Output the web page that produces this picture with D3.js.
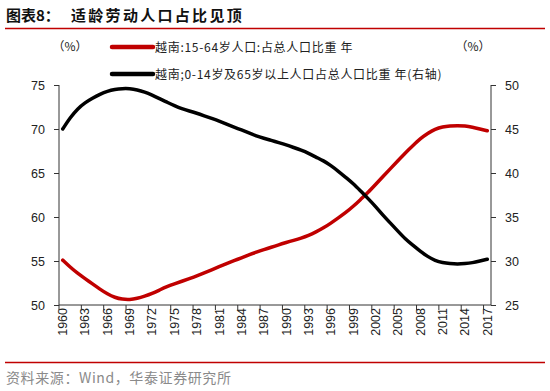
<!DOCTYPE html>
<html><head><meta charset="utf-8">
<script src="https://cdn.jsdelivr.net/npm/d3@7"></script>
<style>
html,body{margin:0;padding:0;background:#fff;}
svg{display:block;}
text{font-family:"Liberation Sans",Arial,sans-serif;}
.cjk{font-family:"Noto Sans CJK SC","Liberation Sans",sans-serif;}
</style></head>
<body><svg id="c" width="550" height="391"></svg>
<script>
const years = d3.range(1960, 2018);
const workingAge = [55.1,54.3,53.6,53.0,52.4,51.8,51.25,50.85,50.65,50.6,50.75,51.0,51.3,51.7,52.1,52.4,52.7,53.0,53.3,53.65,54.0,54.35,54.7,55.05,55.35,55.7,56.0,56.3,56.55,56.85,57.1,57.35,57.6,57.9,58.3,58.75,59.3,59.9,60.5,61.2,62.0,62.8,63.7,64.6,65.5,66.4,67.3,68.1,68.9,69.5,70.0,70.25,70.35,70.4,70.35,70.2,70.0,69.8];
const dependent = [45.0,46.3,47.3,48.0,48.5,48.95,49.3,49.5,49.6,49.6,49.45,49.2,48.85,48.45,48.05,47.65,47.3,47.05,46.8,46.5,46.2,45.9,45.55,45.2,44.9,44.55,44.2,43.95,43.7,43.45,43.2,42.9,42.6,42.25,41.8,41.4,40.85,40.2,39.5,38.8,37.95,37.1,36.2,35.2,34.3,33.4,32.5,31.8,31.1,30.5,30.05,29.8,29.7,29.65,29.7,29.8,30.0,30.2];
const leftTicks = [50,55,60,65,70,75];
const rightTicks = [25,30,35,40,45,50];
const xTickYears = years.filter((y,i)=>i%3===0);
const title1 = "图表8：";
const title2 = "适龄劳动人口占比见顶";
const legendLabels = ["越南:15-64岁人口:占总人口比重 年","越南;0-14岁及65岁以上人口占总人口比重 年(右轴)"];
const source = "资料来源：Wind，华泰证券研究所";
const RED = "#c00000";

const svg = d3.select("#c");
const L = 59, R = 491, T = 85, B = 305;
const x = d3.scaleBand().domain(years).range([L, R]).paddingInner(0).paddingOuter(0);
const yL = d3.scaleLinear().domain([50, 75]).range([B, T]);
const yR = d3.scaleLinear().domain([25, 50]).range([B, T]);
const cx = d => x(d) + x.bandwidth()/2;

// title
svg.append("text").attr("class","cjk").attr("x",6).attr("y",21).attr("font-size",15).attr("font-weight",700).attr("fill","#111").text(title1);
svg.append("text").attr("class","cjk").attr("x",71).attr("y",21).attr("font-size",15).attr("font-weight",700).attr("fill","#111").attr("letter-spacing",2.3).text(title2);
svg.append("line").attr("x1",5).attr("x2",545).attr("y1",28.5).attr("y2",28.5).attr("stroke",RED).attr("stroke-width",1.3);

// footer
svg.append("line").attr("x1",5).attr("x2",545).attr("y1",362.5).attr("y2",362.5).attr("stroke",RED).attr("stroke-width",1.3);
svg.append("text").attr("class","cjk").attr("x",6).attr("y",383).attr("font-size",14).attr("letter-spacing",0.6).attr("fill","#8a8a8a").text(source);

// axes
const axisColor = "#333";
const gL = svg.append("g").attr("transform",`translate(${L},0)`)
  .call(d3.axisLeft(yL).tickValues(leftTicks).tickSize(5).tickPadding(9).tickFormat(d3.format("d")));
const gR = svg.append("g").attr("transform",`translate(${R},0)`)
  .call(d3.axisRight(yR).tickValues(rightTicks).tickSize(5).tickPadding(9).tickFormat(d3.format("d")));
[gL,gR].forEach(g=>{
  g.select(".domain").attr("d", `M0,${T}V${B}`).attr("stroke",axisColor);
  g.selectAll(".tick line").attr("stroke",axisColor);
  g.selectAll("text").attr("font-size",12.5).attr("fill","#222").attr("font-family","Liberation Sans, Arial, sans-serif");
});
const gX = svg.append("g").attr("transform",`translate(0,${B})`)
  .call(d3.axisBottom(x).tickValues(xTickYears).tickSize(0).tickPadding(0));
gX.select(".domain").attr("d",`M${L},0H${R}`).attr("stroke",axisColor);
gX.selectAll("text").attr("font-size",12.5).attr("fill","#222").attr("font-family","Liberation Sans, Arial, sans-serif")
  .attr("transform","rotate(-90)").attr("text-anchor","end").attr("dx","-3px").attr("dy","0.35em").attr("y",0).attr("x",0);
gX.selectAll(".tick").attr("transform", d=>`translate(${cx(d)},0)`);
svg.append("g").selectAll("line").data(xTickYears).join("line")
  .attr("x1",d=>x(d)).attr("x2",d=>x(d)).attr("y1",B).attr("y2",B+5).attr("stroke",axisColor);

// lines
const lineL = d3.line().x((d,i)=>cx(years[i])).y(d=>yL(d)).curve(d3.curveBasis);
const lineR = d3.line().x((d,i)=>cx(years[i])).y(d=>yR(d)).curve(d3.curveBasis);
svg.append("path").datum(workingAge).attr("d",lineL).attr("fill","none").attr("stroke",RED).attr("stroke-width",3.5).attr("stroke-linecap","round");
svg.append("path").datum(dependent).attr("d",lineR).attr("fill","none").attr("stroke","#000").attr("stroke-width",3.5).attr("stroke-linecap","round");

// units
svg.append("text").attr("class","cjk").attr("x",70).attr("y",51).attr("text-anchor","middle").attr("font-size",12).attr("fill","#222").text("（%）");
svg.append("text").attr("class","cjk").attr("x",473).attr("y",51).attr("text-anchor","middle").attr("font-size",12).attr("fill","#222").text("（%）");

// legend
const legY = [47, 74];
const legColors = [RED, "#000"];
legendLabels.forEach((lab,i)=>{
  svg.append("line").attr("x1",112).attr("x2",153).attr("y1",legY[i]).attr("y2",legY[i]).attr("stroke",legColors[i]).attr("stroke-width",4.5).attr("stroke-linecap","round");
  svg.append("text").attr("class","cjk").attr("x",155).attr("y",legY[i]+4.5).attr("font-size",12).attr("letter-spacing",0.7).attr("fill","#222").text(lab);
});
</script></body></html>
